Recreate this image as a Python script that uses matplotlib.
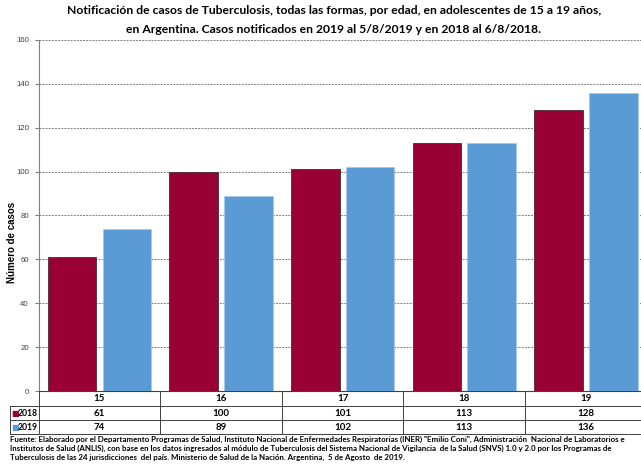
import matplotlib
matplotlib.use("Agg")
import matplotlib.pyplot as plt

plt.rcParams['font.family'] = ['Lato', 'DejaVu Sans']

# datos
edades = ["15", "16", "17", "18", "19"]
casos_2018 = [61, 100, 101, 113, 128]
casos_2019 = [74, 89, 102, 113, 136]
serie_labels = ["2018", "2019"]
colores = ["#990033", "#5B9BD5"]

titulo = ("Notificación de casos de Tuberculosis, todas las formas, por edad, en adolescentes de 15 a 19 años,\n"
          "en Argentina. Casos notificados en 2019 al 5/8/2019 y en 2018 al 6/8/2018.")
fuente = ("Fuente: Elaborado por el Departamento Programas de Salud, Instituto Nacional de Enfermedades Respiratorias (INER) \"Emilio Coni\", Administración  Nacional de Laboratorios e\n"
          "Institutos de Salud (ANLIS), con base en los datos ingresados al módulo de Tuberculosis del Sistema Nacional de Vigilancia  de la Salud (SNVS) 1.0 y 2.0 por los Programas de\n"
          "Tuberculosis de las 24 jurisdicciones  del país. Ministerio de Salud de la Nación. Argentina,  5 de Agosto  de 2019.")

W, H = 641, 465
fig = plt.figure(figsize=(W / 100, H / 100), dpi=100)

# ejes en pixeles de la imagen
x0, x1 = 38.7, 646.7
y_top, y_bot = 40, 391
ax = fig.add_axes([x0 / W, 1 - y_bot / H, (x1 - x0) / W, (y_bot - y_top) / H])

def px2ax(px, py):
    return (px - x0) / (x1 - x0), (y_bot - py) / (y_bot - y_top)

pos = list(range(len(edades)))
ancho = 0.4
ax.bar([p - 0.225 for p in pos], casos_2018, width=ancho, color=colores[0],
       edgecolor="#4a2a30", linewidth=0.6, zorder=3)
ax.bar([p + 0.225 for p in pos], casos_2019, width=ancho, color=colores[1],
       edgecolor="#a9c9e8", linewidth=0.6, zorder=3)

ax.set_xlim(-0.5, len(edades) - 0.5)
ax.set_ylim(0, 160)
ax.set_yticks(range(0, 161, 20))
ax.set_xticks([])
ax.yaxis.grid(True, linestyle=(0, (2, 1.2)), color="#808080", linewidth=0.7, zorder=0)
ax.tick_params(axis="y", labelsize=5.6, labelcolor="#404040", length=3, color="#808080", pad=4)
for lab in ax.get_yticklabels():
    lab.set_family(['Liberation Sans', 'DejaVu Sans'])
for s in ["top", "right"]:
    ax.spines[s].set_visible(False)
ax.spines["left"].set_color("#808080")
ax.spines["bottom"].set_color("#404040")
ax.spines["bottom"].set_linewidth(0.8)

ax.set_ylabel("Número de casos", fontsize=7, fontweight="bold",
              family=['Liberation Sans', 'DejaVu Sans'])
ax.yaxis.set_label_coords(px2ax(17, 0)[0], (y_bot - 242) / (y_bot - y_top))

# tabla de datos debajo del eje
filas = [391, 406, 420, 434]
lc = "#404040"
lw = 0.7
# lineas horizontales
for i, py in enumerate(filas):
    xa = 38.7 if i == 0 else 10
    xa, ya = px2ax(xa, py)
    ax.plot([xa, 1], [ya, ya], color=lc, lw=lw, transform=ax.transAxes, clip_on=False)
# lineas verticales
for k in range(len(edades) + 1):
    xa, ya0 = px2ax(x0 + k * (x1 - x0) / len(edades), filas[0])
    _, ya1 = px2ax(0, filas[-1])
    ax.plot([xa, xa], [ya0, ya1], color=lc, lw=lw, transform=ax.transAxes, clip_on=False)
xa, ya0 = px2ax(10, filas[1])
_, ya1 = px2ax(0, filas[-1])
ax.plot([xa, xa], [ya0, ya1], color=lc, lw=lw, transform=ax.transAxes, clip_on=False)

fs_tab = 7
for k, e in enumerate(edades):
    _, ya = px2ax(0, (filas[0] + filas[1]) / 2)
    ax.text(k, ya, e, transform=ax.get_xaxis_transform(), ha="center", va="center",
            fontsize=fs_tab, fontweight="bold", clip_on=False)
for r, (vals, lab, col) in enumerate(zip([casos_2018, casos_2019], serie_labels, colores)):
    _, ya = px2ax(0, (filas[r + 1] + filas[r + 2]) / 2)
    for k, v in enumerate(vals):
        ax.text(k, ya, str(v), transform=ax.get_xaxis_transform(), ha="center", va="center",
                fontsize=fs_tab, fontweight="bold", clip_on=False)
    xs, _ = px2ax(11, 0)
    ax.text(xs, ya, "■", color=col, transform=ax.transAxes, ha="left", va="center",
            fontsize=6, family=['DejaVu Sans'], clip_on=False)
    xl, _ = px2ax(18, 0)
    ax.text(xl, ya, lab, transform=ax.transAxes, ha="left", va="center",
            fontsize=6.2, fontweight="bold", clip_on=False)

fig.text(334 / W, 1 - 5 / H, titulo, ha="center", va="top", fontsize=8.7,
         fontweight="bold", linespacing=1.85)
fig.text(10 / W, 1 - 435.5 / H, fuente, ha="left", va="top", fontsize=5.7,
         fontweight="bold", linespacing=1.3)

fig.savefig("out.png", dpi=100)
